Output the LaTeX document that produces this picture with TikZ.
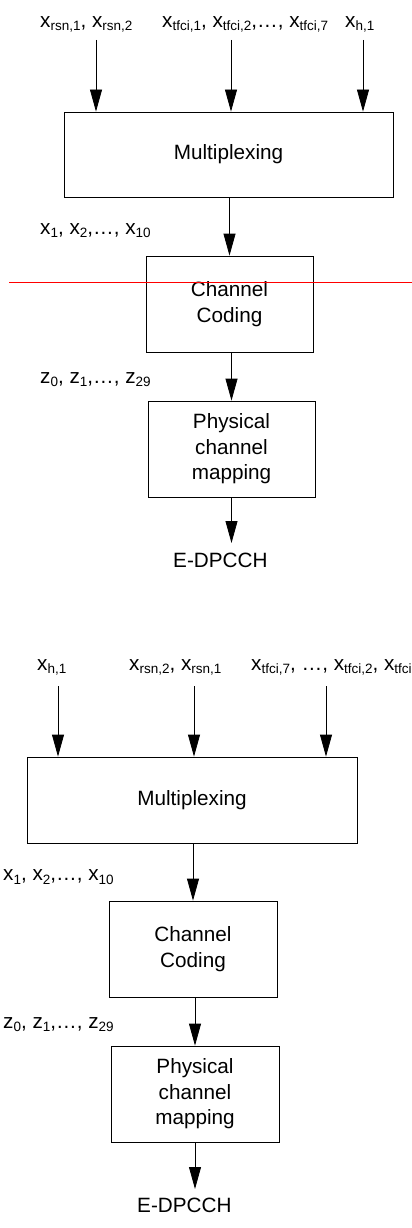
\documentclass[tikz,border=0pt]{standalone}
\usepackage{fontspec}
\setmainfont{Liberation Sans}
\usetikzlibrary{arrows.meta}
\newcommand{\sub}[1]{\raisebox{-3.5pt}{\fontsize{13.5}{13.5}\selectfont #1}}
\newcommand{\vx}[1]{x\sub{#1}}
\newcommand{\vz}[1]{z\sub{#1}}

\begin{document}
\begin{tikzpicture}[x=1pt, y=-1pt,
  font=\fontsize{20.7}{25.5}\selectfont,
  blk/.style={draw, line width=0.8pt, inner sep=0pt, align=center},
  arr/.style={line width=0.8pt, -{Triangle[length=22pt,width=12pt]}},
  lbl/.style={inner sep=0pt, anchor=base west}]
\useasboundingbox (0,0) rectangle (412,1228);
% upper chain
\node[lbl] (inA1) at (40,27.5) {\vx{rsn,1}, \vx{rsn,2}};
\node[lbl] (inA2) at (162,27.5) {\vx{tfci,1}, \vx{tfci,2},\ldots, \vx{tfci,7}};
\node[lbl] (inA3) at (345,27.5) {\vx{h,1}};
\node[blk, minimum width=329pt, minimum height=85pt] (muxA) at (228.5,154.5) {Multiplexing};
\node[blk, minimum width=167pt, minimum height=96pt] (ccA) at (229.5,304) {Channel\\Coding};
\node[blk, minimum width=167pt, minimum height=96pt] (pcmA) at (231.5,449) {Physical\\channel\\mapping};
\node[lbl] (xA) at (40,234) {\vx{1}, \vx{2},\ldots, \vx{10}};
\node[lbl] (zA) at (40,383) {\vz{0}, \vz{1},\ldots, \vz{29}};
\node[lbl] (edA) at (173,567) {E-DPCCH};
\coordinate (sA1) at (96,40);
\coordinate (sA2) at (231,40);
\coordinate (sA3) at (363,40);
\coordinate (oA) at (231.5,543);
\draw[arr] (sA1) -- (sA1 |- muxA.north);
\draw[arr] (sA2) -- (sA2 |- muxA.north);
\draw[arr] (sA3) -- (sA3 |- muxA.north);
\draw[arr] (ccA.north |- muxA.south) -- (ccA.north);
\draw[arr] (pcmA.north |- ccA.south) -- (pcmA.north);
\draw[arr] (pcmA.south) -- (oA);
% cut line
\coordinate (cutL) at (9,282);
\coordinate (cutR) at (412,282);
\draw[red, line width=1pt] (cutL) -- (cutR);
% lower chain
\node[lbl] (inB1) at (37,670) {\vx{h,1}};
\node[lbl] (inB2) at (129,670) {\vx{rsn,2}, \vx{rsn,1}};
\node[lbl] (inB3) at (251,670) {\vx{tfci,7}, \ldots, \vx{tfci,2}, \vx{tfci}};
\node[blk, minimum width=330pt, minimum height=86pt] (muxB) at (192,800) {Multiplexing};
\node[blk, minimum width=168pt, minimum height=96pt] (ccB) at (193,949) {Channel\\Coding};
\node[blk, minimum width=168pt, minimum height=96pt] (pcmB) at (195,1094) {Physical\\channel\\mapping};
\node[lbl] (xB) at (3,880.5) {\vx{1}, \vx{2},\ldots, \vx{10}};
\node[lbl] (zB) at (3,1028) {\vz{0}, \vz{1},\ldots, \vz{29}};
\node[lbl] (edB) at (137,1212) {E-DPCCH};
\coordinate (sB1) at (58,686);
\coordinate (sB2) at (194,686);
\coordinate (sB3) at (326,686);
\coordinate (oB) at (195,1189);
\draw[arr] (sB1) -- (sB1 |- muxB.north);
\draw[arr] (sB2) -- (sB2 |- muxB.north);
\draw[arr] (sB3) -- (sB3 |- muxB.north);
\draw[arr] (ccB.north |- muxB.south) -- (ccB.north);
\draw[arr] (pcmB.north |- ccB.south) -- (pcmB.north);
\draw[arr] (pcmB.south) -- (oB);
\end{tikzpicture}
\end{document}
